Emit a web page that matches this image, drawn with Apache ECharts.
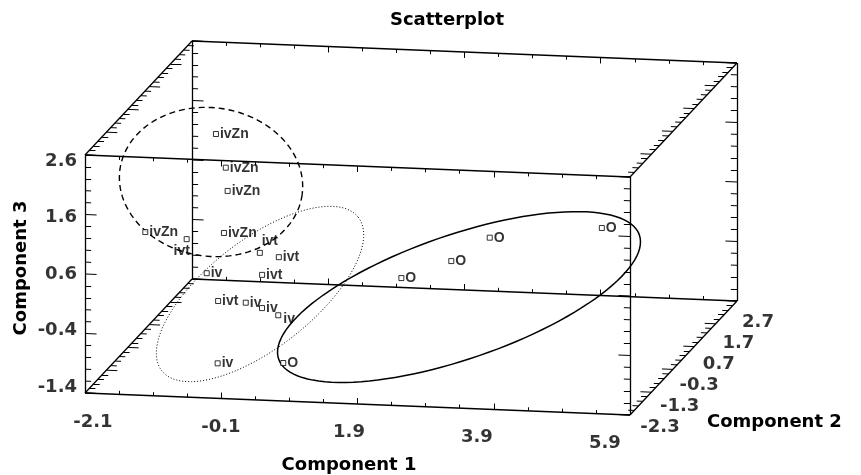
<!DOCTYPE html>
<html>
<head>
<meta charset="utf-8">
<script src="https://cdn.jsdelivr.net/npm/echarts@6.0.0/dist/echarts.min.js"></script>
<style>
  html, body { margin: 0; padding: 0; background: #fff; }
  #chart { width: 861px; height: 475px; }
</style>
</head>
<body>
<div id="chart"></div>
<script>
// point values (Component 1, 2, 3) and their labels
const pointLabels = ['ivZn', 'ivZn', 'ivZn', 'ivZn', 'ivZn',
                     'ivt', 'ivt', 'ivt', 'ivt', 'ivt',
                     'iv', 'iv', 'iv', 'iv', 'iv',
                     'O', 'O', 'O', 'O', 'O']
const comp1 = [-1.34, -1.07, -0.98, -0.94, -1.78,
               -1.33, -0.35, -0.04, -0.16, -0.68,
               -0.91, -0.18, 0.09, 0.36, -0.31,
               0.59, 2.01, 2.68, 3.15, 4.67]
const comp2 = [1.4, 1.0, 0.8, 0.5, -0.5,
               0.0, 0.3, 0.2, -0.2, -0.6,
               -0.4, -0.9, -1.0, -1.1, -1.8,
               -1.6, -0.6, -0.4, -0.1, 0.3]
const comp3 = [1.57, 1.17, 0.86, 0.27, 0.63,
               0.34, 0.04, 0.02, -0.13, -0.44,
               -0.06, -0.33, -0.37, -0.44, -1.01,
               -1.04, 0.07, 0.31, 0.61, 0.69]

// tick labels of the three axes
const xTicks = [-2.1, -0.1, 1.9, 3.9, 5.9]
const yTicks = [-2.3, -1.3, -0.3, 0.7, 1.7, 2.7]
const zTicks = [-1.4, -0.4, 0.6, 1.6, 2.6]

// box range
const xMin = -2.1, xMax = 5.9
const yMin = -2.3, yMax = 2.7
const zMin = -1.4, zMax = 2.6

// oblique view: depth and tilt in screen units
const DEPTH_U = 0.3141
const DEPTH_V = 0.3832
const SLOPE = 0.0462

function proj(x, y, z) {
    return [x + (y - yMin) * DEPTH_U, z - (x - xMin) * SLOPE + (y - yMin) * DEPTH_V]
}

// ellipses drawn round the groups: [centre u, centre v, semi axis a, semi axis b, angle]
const ellipses = [
    [-0.25, 2.146, 1.35, 1.09, -8],
    [0.469, 0.264, 1.83, 0.79, 38],
    [3.39, 0.213, 2.80, 0.91, 19]
]
const ellipseStyles = [
    { lineDash: [6, 4], lineWidth: 1.4 },
    { lineDash: [1, 2], lineWidth: 1 },
    { lineDash: null, lineWidth: 1.5 }
]

// special label places (index -> label settings)
const labelTweaks = {
    5: { position: 'bottom', distance: 2, offset: [-5, 0] },
    6: { position: 'top', distance: 2, offset: [10, 0] },
    13: { position: 'right', distance: 2, offset: [0, 4] }
}

function ticksOf(min, max, step, every) {
    let out = []
    let n = Math.round((max - min) / step)
    for (let i = 0; i <= n; i++) {
        out.push({ v: min + i * step, major: i % every === 0 })
    }
    return out
}

let segs = []
function seg(a, b) {
    segs.push({ coords: [proj(a[0], a[1], a[2]), proj(b[0], b[1], b[2])] })
}

// box edges
;[yMin, yMax].forEach(y => [zMin, zMax].forEach(z => seg([xMin, y, z], [xMax, y, z])))
;[xMin, xMax].forEach(x => [zMin, zMax].forEach(z => seg([x, yMin, z], [x, yMax, z])))
;[xMin, xMax].forEach(x => [yMin, yMax].forEach(y => seg([x, y, zMin], [x, y, zMax])))

let tickSegs = []
function tseg(a, b) {
    tickSegs.push({ coords: [proj(a[0], a[1], a[2]), proj(b[0], b[1], b[2])] })
}
// z ticks on the vertical edges
;[xMin, xMax].forEach(x => [yMin, yMax].forEach(y => {
    let d = x === xMin ? 1 : -1
    ticksOf(zMin, zMax, 0.2, 5).forEach(t => {
        let len = t.major ? 0.17 : 0.09
        tseg([x, y, t.v], [x + d * len, y, t.v])
    })
}))
// y ticks on the depth edges
;[xMin, xMax].forEach(x => [zMin, zMax].forEach(z => {
    let d = x === xMin ? 1 : -1
    ticksOf(yMin, yMax, 0.2, 5).forEach(t => {
        let len = t.major ? 0.16 : 0.09
        tseg([x, t.v, z], [x + d * len, t.v, z])
    })
}))
// x ticks on the long edges
;[yMin, yMax].forEach(y => [zMin, zMax].forEach(z => {
    let d = z === zMin ? 1 : -1
    ticksOf(xMin, xMax, 0.5, 4).forEach(t => {
        let len = t.major ? 0.1 : 0.06
        tseg([t.v, y, z], [t.v, y, z + d * len])
    })
}))

let points = comp1.map((x, i) => {
    let item = { value: proj(x, comp2[i], comp3[i]), name: pointLabels[i] }
    if (labelTweaks[i]) item.label = labelTweaks[i]
    return item
})

// tick label spots along the outer edges
let xLabelData = xTicks.map(x => ({
    value: proj(xMin + 0.117 + 0.9394 * (x - xMin), yMin, zMin),
    name: x.toFixed(1)
}))
let yLabelData = yTicks.map(y => ({
    value: proj(xMax, yMin + 0.916 * (y - yMin), zMin),
    name: y.toFixed(1)
}))
let zLabelData = zTicks.map(z => ({
    value: proj(xMin, yMin, 0.6 + (z - 0.6) * 0.95),
    name: z.toFixed(1)
}))

const tickFont = { fontFamily: 'DejaVu Sans', fontWeight: 'bold', fontSize: 18, color: '#000' }

let myChart = echarts.init(document.getElementById('chart'))
let option = {
    animation: false,
    backgroundColor: '#fff',
    grid: { left: 0, right: 0, top: 0, bottom: 0 },
    xAxis: { type: 'value', min: -3.3477, max: 9.2908, show: false },
    yAxis: { type: 'value', min: -2.7782, max: 5.2050, show: false },
    graphic: [
        { type: 'text', x: 447, y: 20,
          style: { text: 'Scatterplot', font: 'bold 18px "DejaVu Sans"', fill: '#000', align: 'center', verticalAlign: 'middle' } },
        { type: 'text', x: 349, y: 465,
          style: { text: 'Component 1', font: 'bold 18px "DejaVu Sans"', fill: '#000', align: 'center', verticalAlign: 'middle' } },
        { type: 'text', x: 707, y: 422,
          style: { text: 'Component 2', font: 'bold 18px "DejaVu Sans"', fill: '#000', align: 'left', verticalAlign: 'middle' } },
        { type: 'text', x: 21, y: 268, rotation: Math.PI / 2,
          style: { text: 'Component 3', font: 'bold 18px "DejaVu Sans"', fill: '#000', align: 'center', verticalAlign: 'middle' } }
    ],
    series: [
        {
            type: 'lines',
            coordinateSystem: 'cartesian2d',
            silent: true,
            lineStyle: { color: '#000', width: 1.3, opacity: 1 },
            data: segs
        },
        {
            type: 'lines',
            coordinateSystem: 'cartesian2d',
            silent: true,
            lineStyle: { color: '#000', width: 1, opacity: 1 },
            data: tickSegs
        },
        {
            type: 'custom',
            silent: true,
            renderItem: function (params, api) {
                let c = api.coord([api.value(0), api.value(1)])
                let k = api.size([1, 0])[0]
                let a = api.value(2) * k, b = api.value(3) * k
                let th = api.value(4) * Math.PI / 180
                let pts = []
                for (let i = 0; i <= 120; i++) {
                    let t = i / 120 * Math.PI * 2
                    let ex = a * Math.cos(t), ey = b * Math.sin(t)
                    pts.push([c[0] + ex * Math.cos(th) + ey * Math.sin(th),
                              c[1] - ex * Math.sin(th) + ey * Math.cos(th)])
                }
                let st = ellipseStyles[params.dataIndex]
                return {
                    type: 'polyline',
                    shape: { points: pts },
                    style: { fill: null, stroke: '#000', lineWidth: st.lineWidth, lineDash: st.lineDash }
                }
            },
            data: ellipses
        },
        {
            type: 'scatter',
            silent: true,
            symbol: 'rect',
            symbolSize: 5,
            itemStyle: { color: '#fff', borderColor: '#000', borderWidth: 1 },
            label: {
                show: true,
                position: 'right',
                distance: 1,
                formatter: '{b}',
                fontFamily: 'Liberation Sans',
                fontWeight: 'bold',
                fontSize: 14,
                color: '#000'
            },
            data: points,
            z: 5
        },
        {
            type: 'scatter', silent: true, symbolSize: 0,
            label: Object.assign({ show: true, position: 'inside', offset: [0, 29], formatter: '{b}' }, tickFont),
            data: xLabelData
        },
        {
            type: 'scatter', silent: true, symbolSize: 0,
            label: Object.assign({ show: true, position: 'inside', offset: [30, 12], formatter: '{b}' }, tickFont),
            data: yLabelData
        },
        {
            type: 'scatter', silent: true, symbolSize: 0,
            label: Object.assign({ show: true, position: 'left', distance: 8, formatter: '{b}' }, tickFont),
            data: zLabelData
        }
    ]
}
myChart.setOption(option)
</script>
</body>
</html>
